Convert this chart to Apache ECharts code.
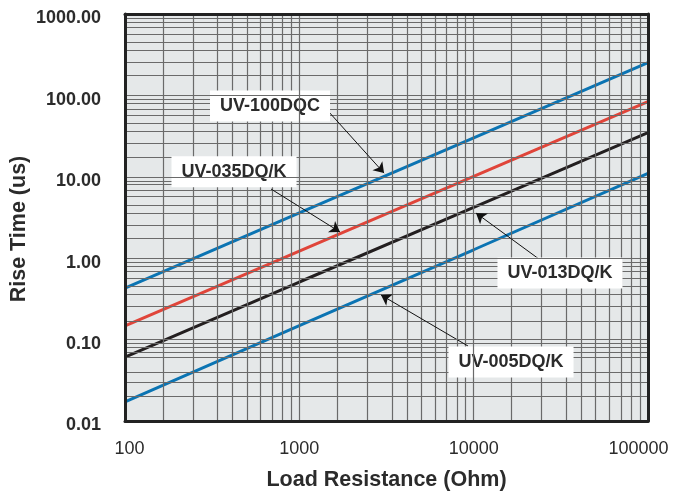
<!DOCTYPE html>
<html>
<head>
<meta charset="utf-8">
<script src="https://cdn.jsdelivr.net/npm/echarts@6/dist/echarts.min.js"></script>
<style>
html,body{margin:0;padding:0;background:#fff;}
#chart{width:673px;height:492px;}
</style>
</head>
<body>
<div id="chart"></div>
<script>
// ---- data ----
const loadResistance = [100, 1000, 10000, 100000];
const uv100DQC = [0.43, 3.6, 30, 252];
const uv035DQK = [0.147, 1.22, 10.1, 84];
const uv013DQK = [0.061, 0.51, 4.2, 35];
const uv005DQK = [0.0172, 0.148, 1.27, 11];
const seriesNames = ['UV-100DQC', 'UV-035DQ/K', 'UV-013DQ/K', 'UV-005DQ/K'];
const xDecades = [100, 1000, 10000];
const yDecades = [0.01, 0.1, 1, 10, 100];
const xMinorMult = [1.65, 2.45, 3.4, 4.15, 5, 6, 7, 8, 9];
const yMinorMult = [1.75, 2.55, 3.6, 4.5, 5.7, 6.85, 8, 8.9];

// annotation placement (data coordinates): label centre, arrow start, arrow tip
const annotations = [
  {label: [679, 74.1], from: [1479, 62.5], to: [3062, 11.1]},
  {label: [422, 11.5], from: [688, 7.08], to: [1711, 2.10]},
  {label: [31270, 0.658], from: [25000, 0.898], to: [10310, 3.59]},
  {label: [16380, 0.0531], from: [9280, 0.0834], to: [2941, 0.353]}
];

const colors = ['#0b74b3', '#e0453a', '#231f20', '#0b74b3'];
const values = [uv100DQC, uv035DQK, uv013DQK, uv005DQK];
const FONT = '"Liberation Sans", Arial, Helvetica, sans-serif';
const TXT = '#2b2b2b';

const gridLineData = [];
xDecades.forEach(d => xMinorMult.forEach(m => gridLineData.push({xAxis: +(d * m).toPrecision(6)})));
yDecades.forEach(d => yMinorMult.forEach(m => gridLineData.push({yAxis: +(d * m).toPrecision(6)})));

const series = [{
  type: 'line',
  data: [],
  z: 1,
  silent: true,
  markLine: {
    silent: true,
    symbol: ['none', 'none'],
    label: {show: false},
    lineStyle: {color: '#6a6a6a', width: 1.2, type: 'solid'},
    animation: false,
    data: gridLineData
  }
}];

values.forEach((vals, i) => {
  const a = annotations[i];
  series.push({
    name: seriesNames[i],
    type: 'line',
    z: 3,
    data: loadResistance.map((x, j) => [x, vals[j]]),
    showSymbol: false,
    symbol: 'none',
    lineStyle: {color: colors[i], width: 3},
    itemStyle: {color: colors[i]},
    markLine: {
      silent: true,
      symbol: ['none', 'arrow'],
      symbolSize: 10,
      label: {show: false},
      lineStyle: {color: '#111', width: 1, type: 'solid'},
      itemStyle: {color: '#111'},
      data: [[{coord: a.from}, {coord: a.to}]]
    },
    markPoint: {
      silent: true,
      symbol: 'rect',
      symbolSize: 1,
      itemStyle: {color: 'rgba(0,0,0,0)'},
      label: {
        show: true,
        position: 'inside',
        formatter: seriesNames[i],
        color: TXT,
        fontFamily: FONT,
        fontWeight: 'bold',
        fontSize: 18,
        lineHeight: 19,
        backgroundColor: '#ffffff',
        padding: [6, 10, 6, 10]
      },
      data: [{coord: a.label}]
    }
  });
});

const chart = echarts.init(document.getElementById('chart'), null, {renderer: 'canvas'});
chart.setOption({
  animation: false,
  backgroundColor: '#ffffff',
  grid: {
    left: 125, right: 25, top: 14, bottom: 71,
    containLabel: false,
    outerBoundsMode: 'none',
    show: true, backgroundColor: '#e5e8e9', borderWidth: 0
  },
  xAxis: [{
    type: 'log', logBase: 10, min: 100, max: 100000,
    z: 10,
    name: 'Load Resistance (Ohm)',
    nameLocation: 'middle',
    nameGap: 48,
    nameMoveOverlap: false,
    nameTextStyle: {color: TXT, fontFamily: FONT, fontWeight: 'bold', fontSize: 21.5},
    axisLine: {show: true, lineStyle: {color: '#222', width: 3}},
    axisTick: {show: false},
    splitLine: {show: true, lineStyle: {color: '#6a6a6a', width: 1.2}},
    axisLabel: {
      margin: 19,
      color: TXT, fontFamily: FONT, fontSize: 18,
      formatter: v => {
        const s = String(Math.round(v));
        if (Math.round(v) === 100) return '{mn|' + s + '}';
        if (Math.round(v) === 100000) return '{mx|' + s + '}';
        return s;
      },
      rich: {
        mn: {color: TXT, fontFamily: FONT, fontSize: 18, padding: [0, 0, 0, 9]},
        mx: {color: TXT, fontFamily: FONT, fontSize: 18, padding: [0, 19, 0, 0]}
      }
    }
  }, {
    type: 'log', logBase: 10, min: 100, max: 100000, position: 'top', z: 10,
    axisLine: {show: true, onZero: false, lineStyle: {color: '#222', width: 3}},
    axisTick: {show: false}, axisLabel: {show: false}, splitLine: {show: false}
  }],
  yAxis: [{
    type: 'log', logBase: 10, min: 0.01, max: 1000,
    z: 10,
    name: 'Rise Time (us)',
    nameLocation: 'middle',
    nameGap: 95,
    nameMoveOverlap: false,
    nameTextStyle: {color: TXT, fontFamily: FONT, fontWeight: 'bold', fontSize: 21.5, padding: [0, 23, 0, 0]},
    axisLine: {show: true, lineStyle: {color: '#222', width: 3}},
    axisTick: {show: false},
    splitLine: {show: true, lineStyle: {color: '#6a6a6a', width: 1.2}},
    axisLabel: {
      margin: 24,
      color: TXT, fontFamily: FONT, fontWeight: 'bold', fontSize: 18,
      verticalAlign: 'top',
      lineHeight: 9,
      formatter: v => Number(v).toFixed(2)
    }
  }, {
    type: 'log', logBase: 10, min: 0.01, max: 1000, position: 'right', z: 10,
    axisLine: {show: true, onZero: false, lineStyle: {color: '#222', width: 3}},
    axisTick: {show: false}, axisLabel: {show: false}, splitLine: {show: false}
  }],
  series: series
});
</script>
</body>
</html>
